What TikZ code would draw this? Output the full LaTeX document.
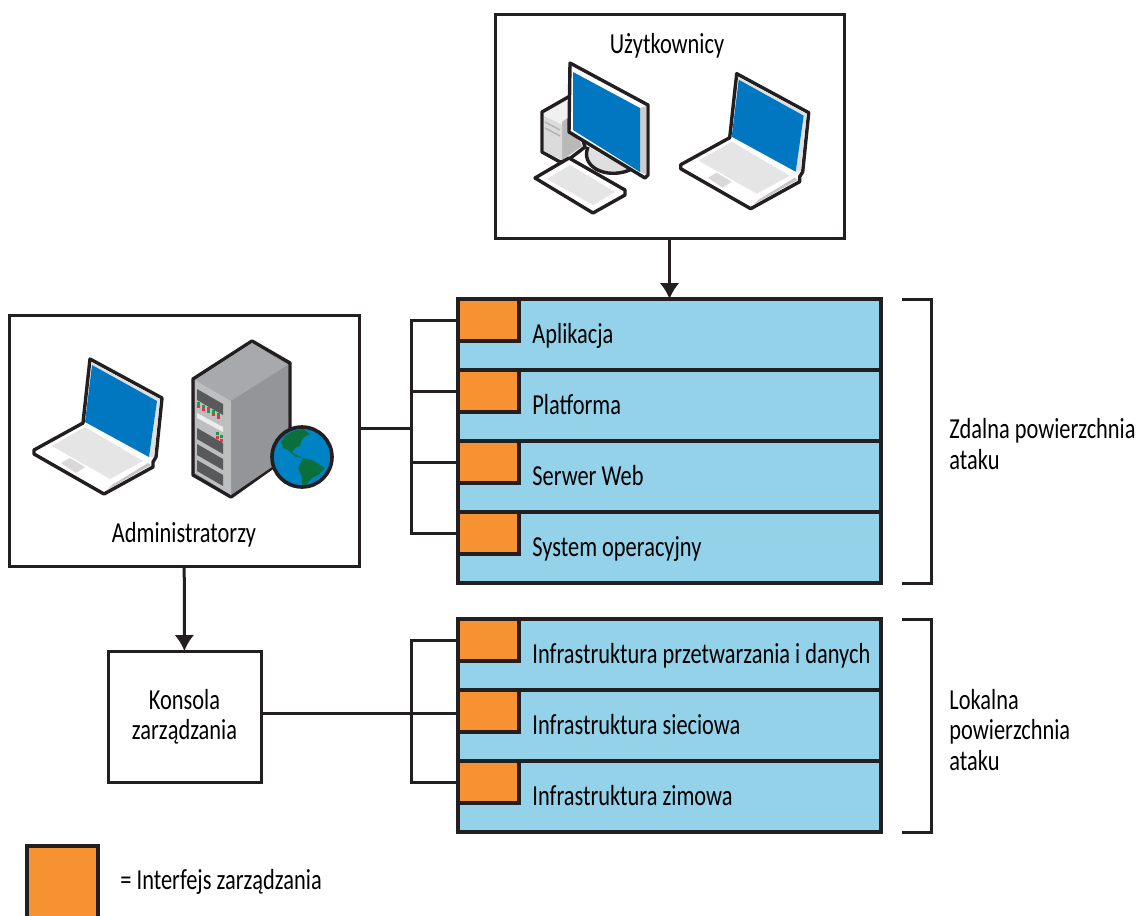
\documentclass[tikz,border=0pt]{standalone}
\usepackage{fontspec}
\setmainfont[FakeStretch=0.772]{Carlito}
\usetikzlibrary{positioning, arrows.meta}

\definecolor{rowblue}{HTML}{94D2EA}
\definecolor{ifaceorange}{HTML}{F79232}
\definecolor{screenblue}{HTML}{0077C0}
\definecolor{linedark}{HTML}{231F20}
\definecolor{globeblue}{HTML}{0083C4}
\definecolor{globegreen}{HTML}{0B6F3C}
\definecolor{servertop}{HTML}{A7A9AC}
\definecolor{serverfront}{HTML}{BCBEC0}
\definecolor{serverside}{HTML}{939598}
\definecolor{serverpanel}{HTML}{58595B}
\definecolor{ledgreen}{HTML}{0DA14B}
\definecolor{ledred}{HTML}{E8304A}

\tikzset{
  box/.style={draw=linedark, line width=1.5pt, fill=white, outer sep=0pt},
  rowbox/.style={draw=linedark, line width=1.55pt, fill=rowblue, outer sep=0pt, minimum width=211.5pt, minimum height=35.5pt},
  iface/.style={draw=linedark, line width=1.55pt, fill=ifaceorange, outer sep=0pt, minimum width=30.5pt, minimum height=21pt},
  rowlabel/.style={anchor=west, xshift=37pt, yshift=-1pt, text height=10pt, text depth=3pt, inner sep=0pt},
  sidelabel/.style={anchor=west, align=left, inner sep=0pt},
  wire/.style={draw=linedark, line width=1.5pt},
  laptop/.pic={
    \draw[linedark, line width=1.7pt, line join=round, fill=white] (70,29) -- (142,68) -- (136,127) -- (133,132) -- (133,137) -- (84,164) -- (14,124) -- (14,120) -- (63,93) -- cycle;
    \fill[gray!25] (71,32) -- (140,69) -- (134,127) -- (129,127) -- (137,71) -- (72,35) -- cycle;
    \fill[screenblue] (72,35) -- (137,71) -- (129,127) -- (65,92) -- cycle;
    \fill[gray!20] (32,116) -- (65,97) -- (123,131) -- (90,149) -- cycle;
    \fill[gray!30] (41,133) -- (50,128) -- (65,137) -- (56,143) -- cycle;
    \fill[gray!45] (87,160) -- (131,135) -- (128,133) -- (92,155) -- cycle;
  },
  desktop/.pic={
    % tower
    \draw[linedark, line width=1.7pt, line join=round, fill=gray!12] (22,62) -- (50,46) -- (65,97) -- (48,110) -- (40,112) -- (22,102) -- cycle;
    \fill[gray!55] (42,72) -- (50,66) -- (62,96) -- (42,110) -- cycle;
    \fill[gray!28] (24,66) -- (42,75) -- (42,110) -- (24,101) -- cycle;
    \draw[gray!60, line width=0.7pt] (25,72) -- (40,80) (25,78) -- (40,86);
    % stand
    \draw[linedark, line width=1.7pt, fill=gray!25] (68,97) .. controls (60,116) and (85,130) .. (110,120);
    % keyboard
    \draw[linedark, line width=1.7pt, line join=round, fill=white] (15,128) -- (49,108) -- (105,140) -- (105,145) -- (73,163) -- cycle;
    \fill[gray!20] (27,129) -- (50,115) -- (95,142) -- (73,155) -- cycle;
    % monitor
    \draw[linedark, line width=1.7pt, line join=round, fill=white] (50,13) -- (128,55) -- (128,125) -- (125,128) -- (49,82) -- cycle;
    \fill[gray!40] (120,58) -- (126,56) -- (126,125) -- (120,122) -- cycle;
    \fill[screenblue] (53,22) -- (120,58) -- (120,122) -- (53,80) -- cycle;
  },
  webserver/.pic={
    \draw[linedark, line width=1.7pt, line join=round, fill=serverside] (173,49) -- (232,11) -- (270,33) -- (270,125) -- (211,167) -- (173,145) -- cycle;
    \fill[servertop] (175,50) -- (232,13) -- (268,35) -- (211,71) -- cycle;
    \fill[serverside] (211,71) -- (268,35) -- (268,126) -- (211,165) -- cycle;
    \fill[serverfront] (175,50) -- (211,71) -- (211,165) -- (175,143) -- cycle;
    \foreach \y in {59,98,114,130}
      \fill[serverpanel] (177,\y) -- (203,\y+15) -- (203,\y+26) -- (177,\y+11) -- cycle;
    \fill[white!85!gray] (177,83) -- (203,97) -- (203,102) -- (177,88) -- cycle;
    \foreach \x/\y/\c in {177/72/ledgreen, 177/75/ledred, 182/75/ledgreen, 182/78/ledred, 187/77/ledred, 187/80/ledgreen, 192/80/ledgreen, 192/83/ledred, 197/83/ledgreen, 197/86/ledred, 196/102/ledgreen, 200/105/ledgreen, 196/106/ledred, 200/109/ledred}
      \fill[\c] (\x,\y) rectangle ++(3,2.5);
    % globe
    \begin{scope}
      \clip (282,127) circle (30);
      \fill[globeblue] (282,127) circle (30);
      \fill[globegreen] (261,112) -- (265,106) -- (273,101) -- (283,99) -- (290,104) -- (284,107) -- (281,111) -- (280,116) -- (276,117) -- (272,122) -- (277,125) -- (283,128) -- (276,127) -- (268,120) -- (263,118) -- cycle;
      \fill[globegreen] (278,138) -- (283,128) -- (292,130) -- (305,138) -- (298,145) -- (292,148) -- (285,156) -- (282,155) -- (282,147) -- cycle;
    \end{scope}
    \draw[linedark, line width=1.8pt] (282,127) circle (30);
  }
}

\begin{document}
\begin{tikzpicture}[x=0.5pt, y=-0.5pt, font=\fontsize{14.5}{15.2}\selectfont]
\useasboundingbox (0,0) rectangle (1138,915);

\node[box, minimum width=174.5pt, minimum height=111.5pt] (users) at (669.5,126.5) {};
\node[box, minimum width=175pt, minimum height=125.5pt] (admin) at (184,440.5) {};
\node[box, minimum width=76.5pt, minimum height=65.5pt, align=center] (console) at (184.5,716.5) {Konsola\\zarządzania};

\node[inner sep=0pt] (usersText) at (667,46) {Użytkownicy};
\node[inner sep=0pt] (adminText) at (184,535) {Administratorzy};

\pic at (520,50) {desktop};
\pic at (666.7,44.7) {laptop};
\pic at (20,330) {laptop};
\pic at (20,330) {webserver};

% remote stack
\node[rowbox, anchor=north west] (rowA) at (458,299) {};
\node[rowbox, below=0pt of rowA] (rowB) {};
\node[rowbox, below=0pt of rowB] (rowC) {};
\node[rowbox, below=0pt of rowC] (rowD) {};
% local stack
\node[rowbox, anchor=north west] (rowE) at (458,619) {};
\node[rowbox, below=0pt of rowE] (rowF) {};
\node[rowbox, below=0pt of rowF] (rowG) {};

\foreach \r in {A,B,C,D,E,F,G}
  \node[iface, anchor=north west] (if\r) at (row\r.north west) {};

\node[rowlabel] (labA) at (rowA.west) {Aplikacja};
\node[rowlabel] (labB) at (rowB.west) {Platforma};
\node[rowlabel] (labC) at (rowC.west) {Serwer Web};
\node[rowlabel] (labD) at (rowD.west) {System operacyjny};
\node[rowlabel] (labE) at (rowE.west) {Infrastruktura przetwarzania i danych};
\node[rowlabel] (labF) at (rowF.west) {Infrastruktura sieciowa};
\node[rowlabel] (labG) at (rowG.west) {Infrastruktura zimowa};

\coordinate (busA) at (411,428);
\coordinate (busB) at (411,713);

\draw[wire, -{Latex[length=8pt, width=10pt]}] (users) -- (rowA);
\draw[wire, -{Latex[length=8pt, width=10pt]}] (admin) -- (console);
\draw[wire] (admin.east |- busA) -- (busA);
\draw[wire] (console.east |- busB) -- (busB) -- (busB -| rowF.west);
\draw[wire] (ifA.west) -- (ifA.west -| busA) -- (ifD.west -| busA) -- (ifD.west);
\draw[wire] (ifB.west) -- (ifB.west -| busA);
\draw[wire] (ifC.west) -- (ifC.west -| busA);
\draw[wire] (ifE.west) -- (ifE.west -| busB) -- (ifG.west -| busB) -- (ifG.west);

\draw[wire] ([xshift=10.5pt]rowA.north east) -- ++(14.5pt,0) |- ([xshift=10.5pt]rowD.south east);
\draw[wire] ([xshift=10.5pt]rowE.north east) -- ++(14.5pt,0) |- ([xshift=10.5pt]rowG.south east);

\node[sidelabel] (remoteText) at (949,444) {Zdalna powierzchnia\\ataku};
\node[sidelabel] (localText) at (949,730) {Lokalna\\powierzchnia\\ataku};

\node[iface, minimum width=35.5pt, minimum height=39.5pt] (legend) at (62.5,885.5) {};
\node[sidelabel, right=11pt of legend, yshift=2pt] (legendText) {= Interfejs zarządzania};
\end{tikzpicture}
\end{document}
